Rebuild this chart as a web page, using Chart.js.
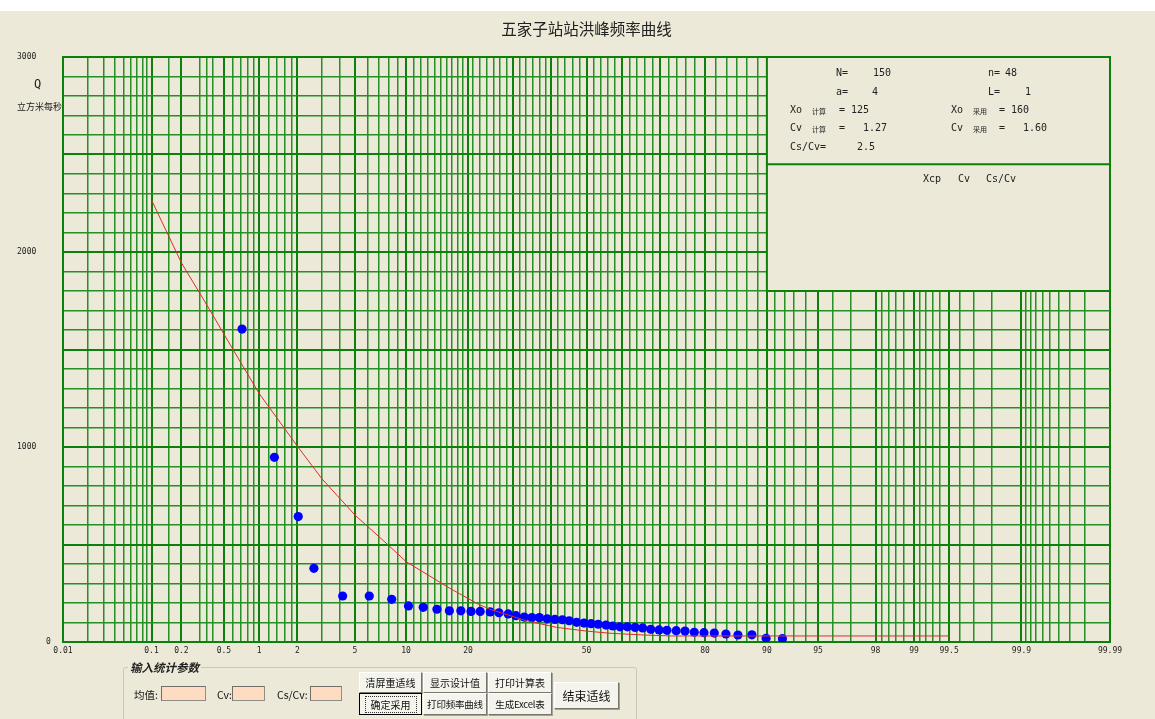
<!DOCTYPE html>
<html>
<head>
<meta charset="utf-8">
<script src="https://cdn.jsdelivr.net/npm/chart.js@4.4.0/dist/chart.umd.min.js"></script>
<style>
  html, body { margin: 0; padding: 0; }
  body {
    width: 1155px; height: 719px; overflow: hidden; position: relative;
    background: #ECE9D8; font-family: "Noto Sans CJK SC", sans-serif;
  }
  #topbar { position: absolute; left: 0; top: 0; width: 1155px; height: 11px; background: #fff; }
  #myChart { position: absolute; left: 0; top: 0; }
  .group {
    position: absolute; left: 123px; top: 667px; width: 514px; height: 70px;
    border: 1px solid #C9C8B8; border-radius: 3px; box-sizing: border-box;
  }
  .legend {
    position: absolute; left: 128px; top: 660px; padding: 0 2px; background: #ECE9D8;
    font-size: 11.5px; font-style: italic; font-weight: 600; color: #222; line-height: 15px;
  }
  .lbl { position: absolute; font-size: 10.5px; color: #111; line-height: 14px; white-space: nowrap; }
  .inp {
    position: absolute; height: 15px; box-sizing: border-box; background: #FDDCC2;
    border: 1px solid #8E8E86; border-top-color: #6F6F68; border-left-color: #6F6F68;
  }
  .btn {
    position: absolute; box-sizing: border-box; background: #F4F3EC;
    border: 1px solid; border-color: #FFFFFF #77756A #77756A #FFFFFF;
    box-shadow: 1px 1px 0 #A5A397; white-space: nowrap; overflow: hidden;
    font-size: 10px; color: #111; display: flex; align-items: center; justify-content: center;
  }
  .btn.narrow { font-size: 9.5px; letter-spacing: -0.2px; }
  .btn.focus { border: 1px solid #000; box-shadow: none; }
  .btn.focus span { border: 1px dotted #333; padding: 1px 5px; line-height: 13px; }
  .btn.big { font-size: 12px; }
</style>
</head>
<body>
<div id="topbar"></div>
<canvas id="myChart" width="1155" height="719"></canvas>

<div class="group"></div>
<div class="legend">输入统计参数</div>
<div class="lbl" style="left:134px;top:688px;">均值:</div>
<div class="inp" style="left:161px;top:686px;width:45px;"></div>
<div class="lbl" style="left:217px;top:688px;">Cv:</div>
<div class="inp" style="left:232px;top:686px;width:33px;"></div>
<div class="lbl" style="left:277px;top:688px;">Cs/Cv:</div>
<div class="inp" style="left:310px;top:686px;width:32px;"></div>

<div class="btn" style="left:359px;top:672px;width:63px;height:21px;">清屏重适线</div>
<div class="btn" style="left:423px;top:672px;width:64px;height:21px;">显示设计值</div>
<div class="btn" style="left:488px;top:672px;width:64px;height:21px;">打印计算表</div>
<div class="btn focus" style="left:359px;top:693px;width:63px;height:22px;"><span>确定采用</span></div>
<div class="btn narrow" style="left:423px;top:693px;width:64px;height:22px;">打印频率曲线</div>
<div class="btn narrow" style="left:488px;top:693px;width:64px;height:22px;">生成Excel表</div>
<div class="btn big" style="left:554px;top:682px;width:65px;height:27px;">结束适线</div>

<script>
// probability axis: labelled lines and the finer unlabelled ones (percent)
const freqTicks = [0.01, 0.1, 0.2, 0.5, 1, 2, 5, 10, 20, 50, 80, 90, 95, 98, 99, 99.5, 99.9, 99.99];
const freqTickLabels = ['0.01', '0.1', '0.2', '0.5', '1', '2', '5', '10', '20', '50', '80', '90', '95', '98', '99', '99.5', '99.9', '99.99'];
const freqHeavy = [30, 40, 60, 70];
const freqMinor = [
  0.02, 0.03, 0.04, 0.05, 0.06, 0.07, 0.08, 0.09, 0.15, 0.3, 0.35, 0.4,
  0.6, 0.7, 0.8, 0.9, 1.2, 1.4, 1.6, 1.8, 3, 4, 6, 7, 8, 9,
  11, 12, 13, 14, 15, 16, 17, 18, 19, 21, 22.5, 24, 25.5, 27, 28.5,
  31.7, 33.4, 35.1, 36.9, 38.7, 42, 44, 46, 48, 52, 54, 56, 58,
  62, 64, 66, 68, 72, 74, 76, 78, 82, 84, 85.7, 87.3, 88.8,
  91, 92, 93, 94, 96, 97, 98.2, 98.4, 98.6, 98.8, 99.1, 99.2, 99.3, 99.4,
  99.6, 99.7, 99.8, 99.91, 99.92, 99.93, 99.94, 99.95, 99.96, 99.97, 99.98
];
const flowTicks = [0, 1000, 2000, 3000];

// measured floods: empirical frequency (%) and peak discharge (m3/s)
const empFreq = [0.72, 1.33, 2.03, 2.64, 4.16, 6.14, 8.32, 10.3, 12.3, 14.4, 16.5, 18.6,
  20.6, 22.5, 24.7, 26.7, 28.9, 30.8, 32.9, 34.9, 36.9, 39.0, 41.1, 43.2,
  45.1, 47.2, 49.3, 51.3, 53.3, 55.5, 57.4, 59.4, 61.4, 63.5, 65.5, 67.6,
  69.7, 71.6, 73.8, 75.8, 77.8, 79.8, 81.8, 83.9, 85.9, 88.0, 89.9, 91.8];
const empQ = [1605, 947, 643, 378, 236, 236, 219, 185, 178, 168, 160, 160,
  157, 157, 154, 150, 144, 135, 128, 125, 125, 119, 116, 114,
  109, 101, 97, 94, 91, 87, 82, 78, 78, 75, 72, 65,
  62, 60, 58, 56, 50, 48, 46, 41, 36, 37, 19, 17];

// fitted P-III curve
const curveFreq = [0.1, 0.2, 0.35, 0.5, 1, 2, 3, 5, 8, 10, 16.6, 21.8, 24.6, 33.5, 41.6, 50, 56.6, 65.6, 72.7, 99.5];
const curveQ = [2267, 1945, 1728, 1579, 1275, 1004, 838, 651, 495, 412, 275, 198, 168, 109, 75, 56, 45, 36, 31, 31];

// statistics shown in the panel
const stN = 150, stn = 48, sta = 4, stL = 1;
const xoCalc = 125, xoUsed = 160, cvCalc = '1.27', cvUsed = '1.60', csRatio = '2.5';
const chartTitle = '五家子站站洪峰频率曲线';

const GREEN = '#0B800B';
const GREEN_LIGHT = '#259025';
const BG = '#ECE9D8';

// inverse of the standard normal cdf (Acklam)
function probit(p) {
  const a = [-3.969683028665376e+01, 2.209460984245205e+02, -2.759285104469687e+02, 1.383577518672690e+02, -3.066479806614716e+01, 2.506628277459239e+00];
  const b = [-5.447609879822406e+01, 1.615858368580409e+02, -1.556989798598866e+02, 6.680131188771972e+01, -1.328068155288572e+01];
  const c = [-7.784894002430293e-03, -3.223964580411365e-01, -2.400758277161838e+00, -2.549732539343734e+00, 4.374664141464968e+00, 2.938163982698783e+00];
  const d = [7.784695709041462e-03, 3.224671290700398e-01, 2.445134137142996e+00, 3.754408661907416e+00];
  const plow = 0.02425;
  let q, r;
  if (p < plow) {
    q = Math.sqrt(-2 * Math.log(p));
    return (((((c[0]*q+c[1])*q+c[2])*q+c[3])*q+c[4])*q+c[5]) / ((((d[0]*q+d[1])*q+d[2])*q+d[3])*q+1);
  }
  if (p > 1 - plow) {
    q = Math.sqrt(-2 * Math.log(1 - p));
    return -(((((c[0]*q+c[1])*q+c[2])*q+c[3])*q+c[4])*q+c[5]) / ((((d[0]*q+d[1])*q+d[2])*q+d[3])*q+1);
  }
  q = p - 0.5; r = q * q;
  return (((((a[0]*r+a[1])*r+a[2])*r+a[3])*r+a[4])*r+a[5])*q / (((((b[0]*r+b[1])*r+b[2])*r+b[3])*r+b[4])*r+1);
}

function normCdf(z) {
  const t = 1 / (1 + 0.3275911 * Math.abs(z) / Math.SQRT2);
  const y = 1 - (((((1.061405429*t - 1.453152027)*t) + 1.421413741)*t - 0.284496736)*t + 0.254829592)*t * Math.exp(-z*z/2);
  return z >= 0 ? 0.5 * (1 + y) : 0.5 * (1 - y);
}

// normal probability paper axis
class ProbabilityScale extends Chart.LinearScale {
  static id = 'probability';
  static defaults = { ticks: { callback: (v) => v } };

  determineDataLimits() {
    this.min = this.options.min;
    this.max = this.options.max;
  }
  buildTicks() {
    const ticks = [];
    freqTicks.forEach(v => ticks.push({ value: v, heavy: true }));
    freqHeavy.forEach(v => ticks.push({ value: v, heavy: true }));
    freqMinor.forEach(v => ticks.push({ value: v, heavy: false }));
    ticks.sort((a, b) => a.value - b.value);
    return ticks;
  }
  configure() {
    super.configure();
    this._zStart = probit(this.min / 100);
    this._zEnd = probit(this.max / 100);
  }
  getPixelForValue(value) {
    const z = probit(value / 100);
    return this.getPixelForDecimal((z - this._zStart) / (this._zEnd - this._zStart));
  }
  getValueForPixel(pixel) {
    const z = this._zStart + this.getDecimalForPixel(pixel) * (this._zEnd - this._zStart);
    return normCdf(z) * 100;
  }
}
Chart.register(ProbabilityScale);

// title, info panel in the upper right corner and the Q axis caption
const panelPlugin = {
  id: 'panel',
  afterDraw(chart) {
    const { ctx, chartArea } = chart;
    const x = chart.scales.x, y = chart.scales.y;
    const left = x.getPixelForValue(90), right = x.getPixelForValue(99.99);
    const top = y.getPixelForValue(3000), bottom = y.getPixelForValue(1800);
    const mid = y.getPixelForValue(2450);

    ctx.save();
    ctx.fillStyle = '#222';
    ctx.textAlign = 'center';
    ctx.textBaseline = 'middle';
    ctx.font = '15.5px "Noto Sans CJK SC"';
    ctx.fillText(chartTitle, (chartArea.left + chartArea.right) / 2, 29);
    ctx.textAlign = 'left';

    ctx.fillStyle = BG;
    ctx.fillRect(left, top, right - left, bottom - top);
    ctx.strokeStyle = GREEN;
    ctx.lineWidth = 2;
    ctx.strokeRect(left, top, right - left, bottom - top);
    ctx.beginPath();
    ctx.moveTo(left, mid);
    ctx.lineTo(right, mid);
    ctx.stroke();

    ctx.fillStyle = '#222';
    const mono = '10px "DejaVu Sans Mono"';
    const tiny = '7px "Noto Sans CJK SC"';
    const put = (t, px, py, font) => { ctx.font = font || mono; ctx.fillText(t, px, py); };

    put('N=', 836, 73);   put(String(stN), 873, 73);
    put('n=', 988, 73);   put(String(stn), 1005, 73);
    put('a=', 836, 92);   put(String(sta), 872, 92);
    put('L=', 988, 92);   put(String(stL), 1025, 92);
    put('Xo', 790, 110);  put('计算', 812, 111, tiny); put('=', 839, 110); put(String(xoCalc), 851, 110);
    put('Xo', 951, 110);  put('采用', 973, 111, tiny); put('=', 999, 110); put(String(xoUsed), 1011, 110);
    put('Cv', 790, 128);  put('计算', 812, 129, tiny); put('=', 839, 128); put(cvCalc, 863, 128);
    put('Cv', 951, 128);  put('采用', 973, 129, tiny); put('=', 999, 128); put(cvUsed, 1023, 128);
    put('Cs/Cv=', 790, 147); put(csRatio, 857, 147);
    put('Xcp', 923, 179); put('Cv', 958, 179); put('Cs/Cv', 986, 179);

    ctx.font = '12px "DejaVu Sans Mono"';
    ctx.fillText('Q', 34, 85);
    ctx.font = '9px "Noto Sans CJK SC"';
    ctx.fillText('立方米每秒', 17, 107);
    ctx.restore();
  }
};

const ctx = document.getElementById('myChart');
new Chart(ctx, {
  type: 'scatter',
  data: {
    datasets: [
      {
        label: 'P-III',
        data: curveFreq.map((p, i) => ({ x: p, y: curveQ[i] })),
        showLine: true,
        borderColor: 'rgb(222, 45, 40)',
        borderWidth: 1,
        pointRadius: 0,
        tension: 0
      },
      {
        label: '实测',
        data: empFreq.map((p, i) => ({ x: p, y: empQ[i] })),
        backgroundColor: '#0000FF',
        borderWidth: 0,
        pointRadius: 4.6
      }
    ]
  },
  options: {
    responsive: false,
    animation: false,
    events: [],
    layout: { padding: { left: 17, right: 45, top: 57, bottom: 0 } },
    plugins: {
      legend: { display: false },
      tooltip: { enabled: false },
      title: { display: false }
    },
    scales: {
      x: {
        type: 'probability',
        min: 0.01,
        max: 99.99,
        afterFit: (s) => { s.height = 77; },
        border: { display: true, color: GREEN, width: 2 },
        grid: {
          drawTicks: false,
          color: (c) => (c.tick && c.tick.heavy ? GREEN : GREEN_LIGHT),
          lineWidth: (c) => (c.tick && c.tick.heavy ? 2 : 1.5)
        },
        ticks: {
          autoSkip: false,
          maxRotation: 0,
          minRotation: 0,
          padding: 4,
          color: '#222',
          font: { family: '"DejaVu Sans Mono"', size: 8 },
          callback: (v) => {
            const i = freqTicks.indexOf(v);
            return i >= 0 ? freqTickLabels[i] : '';
          }
        }
      },
      y: {
        type: 'linear',
        min: 0,
        max: 3000,
        afterFit: (s) => { s.width = 46; },
        border: { display: true, color: GREEN, width: 2 },
        grid: {
          drawTicks: false,
          color: (c) => (c.tick && c.tick.value % 500 === 0 ? GREEN : GREEN_LIGHT),
          lineWidth: (c) => (c.tick && c.tick.value % 500 === 0 ? 2 : 1.5)
        },
        ticks: {
          stepSize: 100,
          autoSkip: false,
          crossAlign: 'far',
          color: '#222',
          font: { family: '"DejaVu Sans Mono"', size: 8 },
          // the zero label sits right next to the axis
          callback: (v) => (v === 0 ? '0'.padStart(7) : flowTicks.includes(v) ? String(v) : '')
        }
      }
    }
  },
  plugins: [panelPlugin]
});
</script>
</body>
</html>
